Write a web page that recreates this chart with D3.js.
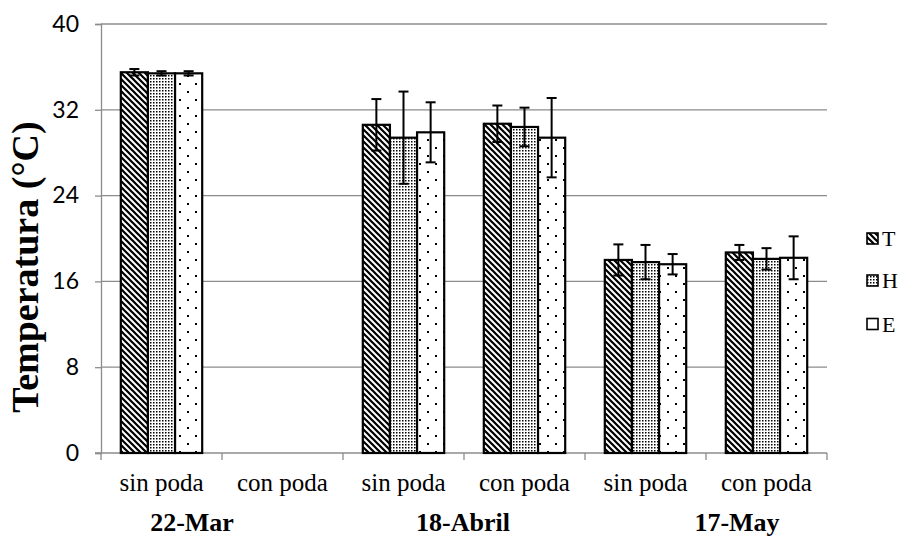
<!DOCTYPE html>
<html>
<head>
<meta charset="utf-8">
<script src="https://cdn.jsdelivr.net/npm/d3@7"></script>
<style>
  html, body { margin: 0; padding: 0; background: #fff; }
  svg { display: block; }
</style>
</head>
<body>
<svg id="chart" width="906" height="537"></svg>
<script>
// Treatment categories along the x axis, grouped by sampling date
const categories = ["sin poda", "con poda", "sin poda", "con poda", "sin poda", "con poda"];
const dates = ["22-Mar", "18-Abril", "17-May"];
const series = ["T", "H", "E"];

// Mean temperature (°C) per category; null = not measured
const valuesT = [35.5, null, 30.6, 30.7, 18.0, 18.7];
const valuesH = [35.4, null, 29.4, 30.4, 17.8, 18.1];
const valuesE = [35.4, null, 29.9, 29.4, 17.6, 18.2];

// Error bar half-widths (°C)
const errT = [0.3, null, 2.4, 1.7, 1.45, 0.7];
const errH = [0.2, null, 4.3, 1.8, 1.6, 1.0];
const errE = [0.2, null, 2.8, 3.7, 0.95, 2.0];

const yTicks = [0, 8, 16, 24, 32, 40];

const svg = d3.select("#chart");
const plotLeft = 101, plotRight = 827, plotTop = 24, plotBottom = 453;
const gridColor = "#8c8c8c";

const defs = svg.append("defs");

// Wide downward diagonal stripes
const pT = defs.append("pattern").attr("id", "patT")
  .attr("patternUnits", "userSpaceOnUse").attr("width", 6).attr("height", 6);
pT.append("rect").attr("width", 6).attr("height", 6).attr("fill", "#fff");
pT.append("path").attr("fill", "#000")
  .attr("d", "M0,0L1.6,0L6,4.4L6,6L4.4,6L0,1.6Z M4.4,0L6,0L6,1.6Z M0,4.4L0,6L1.6,6Z");

// Dense dot grid
const pH = defs.append("pattern").attr("id", "patH")
  .attr("patternUnits", "userSpaceOnUse").attr("width", 3).attr("height", 3);
pH.append("rect").attr("width", 3).attr("height", 3).attr("fill", "#fff");
pH.append("rect").attr("width", 1.5).attr("height", 1.5).attr("fill", "#000");

// Sparse staggered dots
const pE = defs.append("pattern").attr("id", "patE")
  .attr("patternUnits", "userSpaceOnUse").attr("width", 16).attr("height", 16);
pE.append("rect").attr("width", 16).attr("height", 16).attr("fill", "#fff");
pE.append("rect").attr("x", 3).attr("y", 3).attr("width", 2).attr("height", 2).attr("fill", "#000");
pE.append("rect").attr("x", 11).attr("y", 11).attr("width", 2).attr("height", 2).attr("fill", "#000");

const fills = { T: "url(#patT)", H: "url(#patH)", E: "url(#patE)" };

const x = d3.scaleBand().domain(d3.range(categories.length)).range([plotLeft, plotRight])
  .paddingInner(0).paddingOuter(0);
const xs = d3.scaleBand().domain(series).range([0, x.bandwidth()])
  .paddingInner(0).paddingOuter(0.73);
const y = d3.scaleLinear().domain([0, 40]).range([plotBottom, plotTop]);

// Horizontal gridlines
svg.append("g").selectAll("line").data(yTicks.filter(d => d > 0)).join("line")
  .attr("x1", plotLeft).attr("x2", plotRight)
  .attr("y1", d => y(d)).attr("y2", d => y(d))
  .attr("stroke", gridColor).attr("stroke-width", 1.3);

// Y axis
const yAxis = d3.axisLeft(y).tickValues(yTicks).tickSize(6).tickPadding(16).tickFormat(d3.format("d"));
const gy = svg.append("g").attr("transform", `translate(${plotLeft},0)`).call(yAxis);
gy.select(".domain").attr("stroke", gridColor).attr("stroke-width", 1.3);
gy.selectAll(".tick line").attr("stroke", gridColor).attr("stroke-width", 1.3);
gy.selectAll(".tick text").attr("font-family", "Lato, 'Open Sans', sans-serif")
  .attr("font-size", 23).attr("fill", "#000");

// X axis with boundary ticks between categories
const gx = svg.append("g");
gx.append("line").attr("x1", plotLeft - 6).attr("x2", plotRight)
  .attr("y1", plotBottom).attr("y2", plotBottom)
  .attr("stroke", gridColor).attr("stroke-width", 1.3);
const bounds = d3.range(categories.length + 1).map(i => plotLeft + i * x.bandwidth());
gx.selectAll("line.b").data(bounds).join("line").attr("class", "b")
  .attr("x1", d => d).attr("x2", d => d)
  .attr("y1", plotBottom).attr("y2", plotBottom + 7)
  .attr("stroke", gridColor).attr("stroke-width", 1.3);

gx.selectAll("text.cat").data(categories).join("text").attr("class", "cat")
  .attr("x", (d, i) => x(i) + x.bandwidth() / 2)
  .attr("y", 491)
  .attr("text-anchor", "middle")
  .attr("font-family", "'Liberation Serif', 'Times New Roman', serif")
  .attr("font-size", 25).attr("fill", "#000")
  .text(d => d);

// Sampling date labels
const dateX = [192, 463, 737];
gx.selectAll("text.date").data(dates).join("text").attr("class", "date")
  .attr("x", (d, i) => dateX[i])
  .attr("y", 531)
  .attr("text-anchor", "middle")
  .attr("font-family", "'Liberation Serif', 'Times New Roman', serif")
  .attr("font-weight", "bold")
  .attr("font-size", 26).attr("fill", "#000")
  .text(d => d);

// Y axis title
svg.append("text")
  .attr("transform", `translate(38,267) rotate(-90)`)
  .attr("text-anchor", "middle")
  .attr("font-family", "'Liberation Serif', 'Times New Roman', serif")
  .attr("font-weight", "bold")
  .attr("font-size", 38).attr("fill", "#000")
  .text("Temperatura (°C)");

// Bars and error bars
const table = series.map(s => ({
  key: s,
  values: s === "T" ? valuesT : s === "H" ? valuesH : valuesE,
  errs: s === "T" ? errT : s === "H" ? errH : errE
}));

const rows = [];
table.forEach(t => t.values.forEach((v, i) => {
  if (v != null) rows.push({ s: t.key, i, v, e: t.errs[i] });
}));

svg.append("g").selectAll("rect").data(rows).join("rect")
  .attr("x", d => x(d.i) + xs(d.s))
  .attr("y", d => y(d.v))
  .attr("width", xs.bandwidth())
  .attr("height", d => y(0) - y(d.v))
  .attr("fill", d => fills[d.s])
  .attr("stroke", "#000").attr("stroke-width", 2.2);

const eg = svg.append("g").attr("stroke", "#000").attr("stroke-width", 2);
rows.forEach(d => {
  const cx = x(d.i) + xs(d.s) + xs.bandwidth() / 2;
  const y1 = y(d.v + d.e), y2 = y(d.v - d.e);
  eg.append("line").attr("x1", cx).attr("x2", cx).attr("y1", y1).attr("y2", y2);
  eg.append("line").attr("x1", cx - 5).attr("x2", cx + 5).attr("y1", y1).attr("y2", y1);
  eg.append("line").attr("x1", cx - 5).attr("x2", cx + 5).attr("y1", y2).attr("y2", y2);
});

// Legend
const legendY = [238.5, 280.5, 324];
const lg = svg.append("g");
series.forEach((s, i) => {
  lg.append("rect").attr("x", 867).attr("y", legendY[i] - 5.5)
    .attr("width", 11).attr("height", 11)
    .attr("fill", s === "E" ? "#fff" : fills[s])
    .attr("stroke", "#000").attr("stroke-width", 1.6);
  lg.append("text").attr("x", 882).attr("y", legendY[i])
    .attr("dy", "0.35em")
    .attr("font-family", "'Liberation Serif', 'Times New Roman', serif")
    .attr("font-size", 22).attr("fill", "#000")
    .text(s);
});
</script>
</body>
</html>
